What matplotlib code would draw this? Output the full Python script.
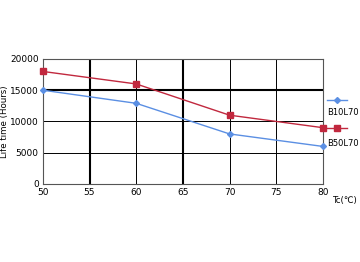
import matplotlib.pyplot as plt
from matplotlib.lines import Line2D

# data
tc = [50, 60, 70, 80]
b10l70 = [15000, 12900, 8000, 6000]
b50l70 = [18000, 16000, 11000, 9000]
x_ticks = [50, 55, 60, 65, 70, 75, 80]
y_ticks = [0, 5000, 10000, 15000, 20000]

blue = '#5b8fe3'
red = '#c1283e'

fig = plt.figure(figsize=(3.6, 2.62), dpi=100)
ax = fig.add_axes([0.119, 0.298, 0.778, 0.477])

# grid: some lines thicker like in the datasheet
for x in x_ticks[1:-1]:
    lw = 1.5 if x in (55, 65) else 0.7
    ax.axvline(x, color='black', lw=lw, zorder=1)
for y in y_ticks[1:-1]:
    lw = 1.5 if y == 15000 else 0.7
    ax.axhline(y, color='black', lw=lw, zorder=1)

ax.plot(tc, b10l70, color=blue, lw=1, marker='D', ms=3, zorder=3, clip_on=False)
ax.plot(tc, b50l70, color=red, lw=1, marker='s', ms=5, zorder=3, clip_on=False)

ax.set_xlim(50, 80)
ax.set_ylim(0, 20000)
ax.set_xticks(x_ticks)
ax.set_yticks(y_ticks)
ax.tick_params(length=0, labelsize=6.5, pad=3)
for s in ax.spines.values():
    s.set_color('#555555')
    s.set_linewidth(0.8)

ax.set_ylabel('Life time (Hours)', fontsize=6.2, labelpad=1)
fig.text(0.993, 0.235, 'Tc(\u2103)', fontsize=6.2, ha='right', va='center')

# legend on the right, labels below their lines
fig.add_artist(Line2D([0.908, 0.964], [0.617, 0.617], color=blue, lw=1))
fig.add_artist(Line2D([0.936], [0.617], color=blue, marker='D', ms=3))
fig.text(0.908, 0.572, 'B10L70', fontsize=6, va='center')
fig.add_artist(Line2D([0.897, 0.964], [0.51, 0.51], color=red, lw=1))
fig.add_artist(Line2D([0.936], [0.51], color=red, marker='s', ms=5))
fig.text(0.908, 0.454, 'B50L70', fontsize=6, va='center')

fig.savefig('out.png', dpi=100)
